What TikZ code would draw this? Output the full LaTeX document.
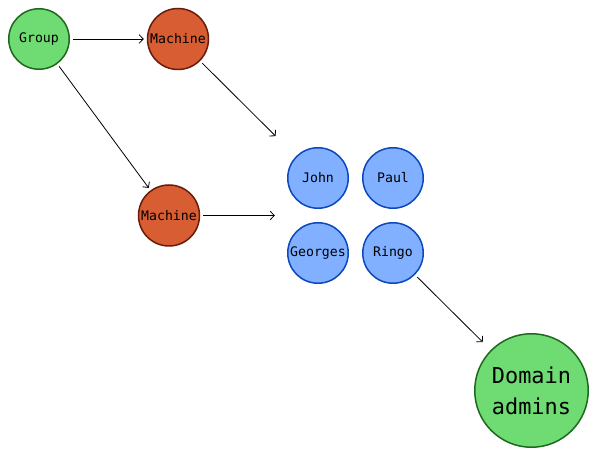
\documentclass[tikz,border=0pt]{standalone}
\usepackage{fontspec}
\setmonofont{DejaVu Sans Mono}
\usepackage{tikz}
\usetikzlibrary{positioning,fit,calc}
\usetikzlibrary{arrows.meta}
\definecolor{grpgreen}{RGB}{110,219,115}
\definecolor{grpborder}{RGB}{31,105,31}
\definecolor{machfill}{RGB}{216,93,50}
\definecolor{machborder}{RGB}{105,28,10}
\definecolor{userfill}{RGB}{128,176,255}
\definecolor{userborder}{RGB}{12,72,190}
\tikzset{
  basic/.style  = {draw, circle, line width=1.5pt, inner sep=1pt,
                   font=\ttfamily\fontsize{13.2}{16}\selectfont},
  group/.style  = {basic, fill=grpgreen, draw=grpborder, minimum size=60.5pt},
  machine/.style = {basic, fill=machfill, draw=machborder, minimum size=61pt},
  user/.style   = {basic, fill=userfill, draw=userborder, minimum size=60.5pt},
  admins/.style = {basic, fill=grpgreen, draw=grpborder, minimum size=113.5pt,
                   align=center, outer sep=9pt,
                   font=\ttfamily\fontsize{21.9}{31}\selectfont},
  link/.style   = {->, line width=0.8pt, shorten <=3pt, shorten >=3pt}
}

\begin{document}
\begin{tikzpicture}[x=1pt, y=-1pt, >={Straight Barb[length=4pt,width=8.5pt]}]
        \useasboundingbox (0,0) rectangle (590,449);
        % the group and the machines it reaches
        \node[group] (grp) at (39,39) {Group};
        \node[machine] (m1) at (178,39) {Machine};
        \node[machine] (m2) at (169,215.5) {Machine};
        % the four users, relatively positioned
        \node[user] (john) at (318,178) {John};
        \node[user, right=13pt of john] (paul) {Paul};
        \node[user, below=13pt of john] (georges) {Georges};
        \node[user, right=13pt of georges] (ringo) {Ringo};
        \node[inner sep=9pt, fit=(john)(paul)(georges)(ringo)] (users) {};
        % the target
        \node[admins] (dadm) at (531.5,390.5) {Domain\\admins};
        % edges
        \draw[link] (grp) -- (m1);
        \draw[link] (grp) -- (m2);
        \foreach \m in {m1,m2}
        \draw[link] (\m) -- (users);
        \draw[link] (ringo) -- (dadm);
\end{tikzpicture}
\end{document}
